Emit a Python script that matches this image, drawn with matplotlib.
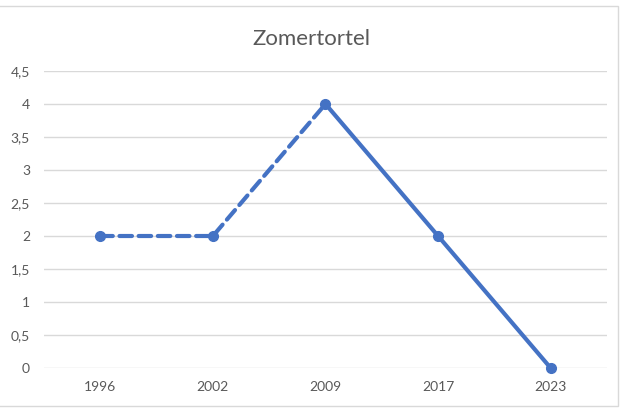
import matplotlib.pyplot as plt
from matplotlib.patches import Rectangle

categories = ['1996', '2002', '2009', '2017', '2023']
values = [2, 2, 4, 2, 0]
yticks = [0, 0.5, 1, 1.5, 2, 2.5, 3, 3.5, 4, 4.5]
ylabels = ['0', '0,5', '1', '1,5', '2', '2,5', '3', '3,5', '4', '4,5']

blue = '#4472C4'
grey = '#595959'

plt.rcParams['font.family'] = ['Lato', 'DejaVu Sans']

fig = plt.figure(figsize=(6.26, 4.08), dpi=100)
ax = fig.add_axes([0.0703, 0.098, 0.8993, 0.728])

x = list(range(len(categories)))
# dashed part up to 2009, solid after
ax.plot(x[:3], values[:3], color=blue, lw=3, ls=(0, (3, 1.6)),
        solid_capstyle='round', dash_capstyle='round', zorder=3)
ax.plot(x[2:], values[2:], color=blue, lw=3, solid_capstyle='round', zorder=3)
ax.plot(x, values, ls='none', marker='o', ms=7, color=blue, zorder=4,
        clip_on=False)

ax.set_xlim(-0.5, len(categories) - 0.5)
ax.set_ylim(0, 4.5)
ax.set_xticks(x)
ax.set_xticklabels(categories)
ax.set_yticks(yticks)
ax.set_yticklabels(ylabels)
ax.grid(axis='y', color='#d9d9d9', lw=1)
ax.set_axisbelow(True)
for s in ax.spines.values():
    s.set_visible(False)
ax.tick_params(length=0, colors=grey, labelsize=10)
ax.tick_params(axis='x', pad=9)
ax.tick_params(axis='y', pad=10)

fig.text(0.497, 0.905, 'Zomertortel', ha='center', va='center',
         fontsize=16, color=grey)

fig.patches.append(Rectangle((-0.01, 0.005), 0.998, 0.98, transform=fig.transFigure,
                             fill=False, ec='#d9d9d9', lw=1))

fig.savefig('out.png', dpi=100)
